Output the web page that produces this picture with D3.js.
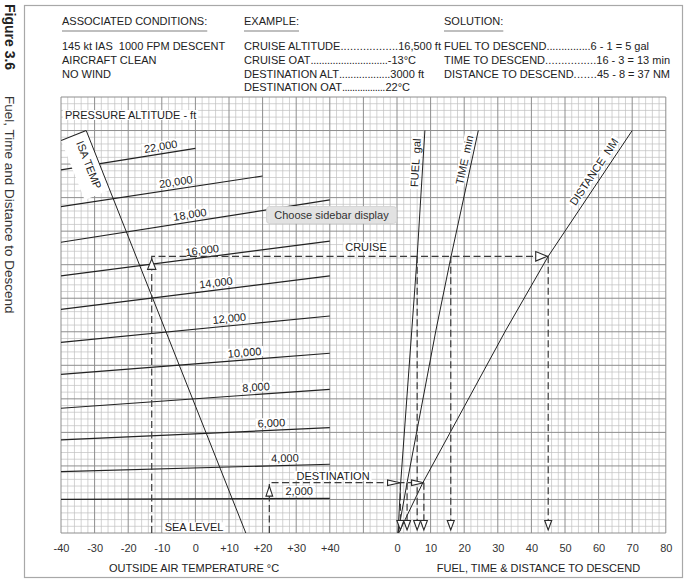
<!DOCTYPE html>
<html><head><meta charset="utf-8">
<script src="https://cdn.jsdelivr.net/npm/d3@7"></script>
<style>
html,body{margin:0;padding:0;background:#fff;}
svg{display:block;font-family:"Liberation Sans",Arial,Helvetica,sans-serif;}
text{white-space:pre;}
</style></head><body>
<svg id="chart" width="692" height="586"></svg>
<script>
// ---------------- data ----------------
const oatTicks = [-40,-30,-20,-10,0,10,20,30,40];
const descentTicks = [0,10,20,30,40,50,60,70,80];
const paLevels   = [22000,20000,18000,16000,14000,12000,10000,8000,6000,4000,2000];
const paStartOAT = [-40,-40,-40,-40,-40,-40,-40,-40,-40,-40,-40];
const paEndOAT   = [0,20,40,40,40,40,40,40,40,40,40];
const paStartH   = [21650,19460,17340,15330,13340,11370,9460,7440,5550,3660,2010];
const paEndH     = [22940,21290,19860,17410,15330,12940,10720,8570,6280,4100,2070];
const paLabelOAT = [-10,-5.5,-1.3,2.3,6.4,10.3,14.8,18.2,22.7,26.7,30.9];
const isaOAT = [-32.5, 15];
const isaH   = [24000, 0];
const scaleH   = [0, 3000, 12100, 16500, 24000];
const fuelGal  = [0.3, 1.1, 4.4, 6.0, 8.3];
const timeMin  = [0.3, 3.0, 11.6, 16.1, 24.2];
const distNM   = [0.5, 7.7, 32.4, 45.0, 70.0];
const ftdNames = ["FUEL  gal", "TIME  min", "DISTANCE  NM"];
const ftdLabelH = [22050, 22150, 21250];
const cruiseOAT = -13, cruiseH = 16500, destOAT = 22, destH = 3000;
const cruiseResults = [6, 16, 45];
const destResults = [1, 3, 8];
const headings = ["ASSOCIATED CONDITIONS:", "EXAMPLE:", "SOLUTION:"];
const conditionLines = ["145 kt IAS  1000 FPM DESCENT", "AIRCRAFT CLEAN", "NO WIND"];
const exampleLabels = ["CRUISE ALTITUDE", "CRUISE OAT", "DESTINATION ALT", "DESTINATION OAT"];
const exampleValues = ["16,500 ft", "-13°C", "3000 ft", "22°C"];
const exampleDots   = [18, 28, 18, 17];
const solutionLabels = ["FUEL TO DESCEND", "TIME TO DESCEND", "DISTANCE TO DESCEND"];
const solutionValues = ["6 - 1 = 5 gal", "16 - 3 = 13 min", "45 - 8 = 37 NM"];
const solutionDots   = [15, 16, 7];

// ---------------- layout ----------------
const svg = d3.select("#chart");
const ink = "#222";
const gridLeft = 61, gridRight = 665.8, gridTop = 97, gridBottom = 533;
const x  = d3.scaleLinear().domain([-40, 140]).range([gridLeft, gridRight]);
const xL = d3.scaleLinear().domain([-40, 40]).range([x(-40), x(40)]);
const xR = d3.scaleLinear().domain([0, 80]).range([x(60), x(140)]);
const y  = d3.scaleLinear().domain([0, 26000]).range([gridBottom, gridTop]);

svg.append("rect").attr("width",692).attr("height",586).attr("fill","#fff");
// frame
svg.append("rect").attr("x",24.5).attr("y",5.5).attr("width",658).attr("height",572)
  .attr("fill","none").attr("stroke","#a8a8a8").attr("stroke-width",1.2);

// side titles
svg.append("text").attr("transform","translate(5,4) rotate(90)")
  .attr("font-size",14).attr("font-weight","bold").attr("fill",ink).text("Figure 3.6");
svg.append("text").attr("transform","translate(5,96) rotate(90)")
  .attr("font-size",13.5).attr("fill","#333").text("Fuel, Time and Distance to Descend");

// header
const headX = [62, 244, 444];
const rowY = [50, 64, 78, 91];
const exampleEnd = [441, 416, 424, 410];
const solutionEnd = [649, 670, 670];
headings.forEach((h,i) => {
  const t = svg.append("text").attr("x",headX[i]).attr("y",25).attr("font-size",11).attr("fill",ink).text(h);
  const w = t.node().getComputedTextLength();
  svg.append("line").attr("x1",headX[i]).attr("x2",headX[i]+w).attr("y1",31).attr("y2",31)
    .attr("stroke","#aaa").attr("stroke-width",1.5);
});
conditionLines.forEach((s,j) => svg.append("text").attr("x",headX[0]).attr("y",rowY[j])
  .attr("font-size",11).attr("fill",ink).text(s));
function leaderLine(x0, yy, label, dots, value, xEnd) {
  const t1 = svg.append("text").attr("x",x0).attr("y",yy).attr("font-size",11).attr("fill",ink).text(label);
  const w1 = t1.node().getComputedTextLength();
  const t3 = svg.append("text").attr("x",xEnd).attr("y",yy).attr("font-size",11).attr("fill",ink)
    .attr("text-anchor","end").text(value);
  const w3 = t3.node().getComputedTextLength();
  const gap = xEnd - w3 - (x0 + w1);
  svg.append("text").attr("x",x0 + w1).attr("y",yy).attr("font-size",11).attr("fill",ink)
    .attr("textLength", Math.max(gap,1)).attr("lengthAdjust","spacing").text(".".repeat(dots));
}
exampleLabels.forEach((l,j) => leaderLine(headX[1], rowY[j], l, exampleDots[j], exampleValues[j], exampleEnd[j]));
solutionLabels.forEach((l,j) => leaderLine(headX[2], rowY[j], l, solutionDots[j], solutionValues[j], solutionEnd[j]));

// clip
svg.append("defs").append("clipPath").attr("id","gclip").append("rect")
  .attr("x",gridLeft).attr("y",gridTop).attr("width",gridRight-gridLeft).attr("height",gridBottom-gridTop);

// grid
const grid = svg.append("g");
const vMinor = d3.range(-40, 140.001, 2).filter(v => Math.abs(v % 10) > 1e-6);
const vMajor = d3.range(-40, 140.001, 10);
const hMinor = d3.range(0, 26000.1, 400).filter(v => v % 2000 !== 0);
const hMajor = d3.range(0, 26000.1, 2000);
grid.selectAll(".vmin").data(vMinor).join("line")
  .attr("x1",d=>x(d)).attr("x2",d=>x(d)).attr("y1",gridTop).attr("y2",gridBottom)
  .attr("stroke","#c0c0c0").attr("stroke-width",0.7);
grid.selectAll(".hmin").data(hMinor).join("line")
  .attr("y1",d=>y(d)).attr("y2",d=>y(d)).attr("x1",gridLeft).attr("x2",gridRight)
  .attr("stroke","#c0c0c0").attr("stroke-width",0.7);
grid.selectAll(".vmaj").data(vMajor).join("line")
  .attr("x1",d=>x(d)).attr("x2",d=>x(d)).attr("y1",gridTop).attr("y2",gridBottom)
  .attr("stroke","#8e8e8e").attr("stroke-width",1);
grid.selectAll(".hmaj").data(hMajor).join("line")
  .attr("y1",d=>y(d)).attr("y2",d=>y(d)).attr("x1",gridLeft).attr("x2",gridRight)
  .attr("stroke","#8e8e8e").attr("stroke-width",1);

// helper: white-backed label
function boxedText(g, txt, size, anchor) {
  const t = g.append("text").attr("font-size",size).attr("fill",ink).attr("text-anchor",anchor||"middle").text(txt);
  const bb = t.node().getBBox();
  g.insert("rect","text").attr("x",bb.x-2).attr("y",bb.y+1).attr("width",bb.width+4).attr("height",bb.height-2).attr("fill","#fff");
  return t;
}

// pressure altitude label box
{
  const g = svg.append("g").attr("transform","translate(65,119)");
  boxedText(g, "PRESSURE ALTITUDE - ft", 11, "start");
}

// pressure altitude lines
const paLayer = svg.append("g");
paLevels.forEach((lvl,i) => {
  const p0 = [xL(paStartOAT[i]), y(paStartH[i])];
  const p1 = [xL(paEndOAT[i]), y(paEndH[i])];
  paLayer.append("path").attr("d", d3.line()([p0,p1]))
    .attr("stroke",ink).attr("stroke-width",1.2).attr("fill","none");
  const hAt = d3.scaleLinear().domain([paStartOAT[i], paEndOAT[i]]).range([paStartH[i], paEndH[i]]);
  const lx = xL(paLabelOAT[i]), ly = y(hAt(paLabelOAT[i]));
  const ang = Math.atan2(p1[1]-p0[1], p1[0]-p0[0]) * 180/Math.PI;
  const g = svg.append("g").attr("transform",`translate(${lx},${ly}) rotate(${ang}) translate(0,-3.5)`);
  boxedText(g, d3.format(",")(lvl), 11);
});

// ISA temp line + label box
{
  const a = [xL(isaOAT[0]), y(isaH[0])], b = [xL(isaOAT[1]), y(isaH[1])];
  const ang = Math.atan2(b[1]-a[1], b[0]-a[0]) * 180/Math.PI;
  const g = svg.append("g").attr("clip-path","url(#gclip)")
    .append("g").attr("transform",`translate(${a[0]},${a[1]}) rotate(${ang})`);
  g.append("rect").attr("x",0).attr("y",0).attr("width",64).attr("height",27).attr("fill","#fff");
  g.append("line").attr("x1",0).attr("y1",0).attr("x2",0).attr("y2",27).attr("stroke",ink).attr("stroke-width",1);
  g.append("text").attr("x",33).attr("y",14).attr("text-anchor","middle").attr("font-size",11).attr("fill",ink).text("ISA TEMP");
  svg.append("path").attr("d", d3.line()([a,b])).attr("stroke",ink).attr("stroke-width",1).attr("fill","none");
}

// SEA LEVEL label
{
  const g = svg.append("g").attr("transform","translate(194,531.3)");
  boxedText(g, "SEA LEVEL", 11);
}

// fuel / time / distance lines
const ftdSeries = [fuelGal, timeMin, distNM];
const ftdOffset = [3.5, 3.5, 5];
ftdSeries.forEach((vals,k) => {
  const pts = vals.map((v,i) => [xR(v), y(scaleH[i])]);
  svg.append("path").attr("d", d3.line()(pts)).attr("stroke",ink).attr("stroke-width",1).attr("fill","none");
  const at = d3.scaleLinear().domain(scaleH).range(vals);
  const h = ftdLabelH[k];
  const px = xR(at(h)), py = y(h);
  const n = vals.length;
  const ang = Math.atan2(y(scaleH[n-1]) - y(scaleH[n-2]), xR(vals[n-1]) - xR(vals[n-2])) * 180/Math.PI;
  const g = svg.append("g").attr("transform",`translate(${px},${py}) rotate(${ang}) translate(0,${-ftdOffset[k]})`);
  boxedText(g, ftdNames[k], 11);
});

// example labels
{
  const g1 = svg.append("g").attr("transform","translate(366,250.7)");
  boxedText(g1, "CRUISE", 11);
  const g2 = svg.append("g").attr("transform","translate(333,479.7)");
  boxedText(g2, "DESTINATION", 11);
}

// dashed example paths
const dashG = svg.append("g").attr("fill","none").attr("stroke","#3a3a3a").attr("stroke-width",1.2).attr("stroke-dasharray","7,3.5");
const arrowTop = 520.5;
dashG.append("path").attr("d", `M${xL(cruiseOAT)},${gridBottom}V${y(cruiseH)}H${xR(cruiseResults[2])}`);
cruiseResults.forEach(v => dashG.append("path").attr("d", `M${xR(v)},${y(cruiseH)}V${arrowTop}`));
dashG.append("path").attr("d", `M${xL(destOAT)},${gridBottom}V${y(destH)}H${xR(destResults[2])}`);
destResults.forEach(v => dashG.append("path").attr("d", `M${xR(v)},${y(destH)}V${arrowTop}`));

// arrows
const arrowG = svg.append("g").attr("fill","#fff").attr("stroke","#2a2a2a").attr("stroke-width",1.1).attr("stroke-linejoin","miter");
function tri(tipX, tipY, dir, len, wid) {
  const h = wid/2;
  if (dir === "up")    return `M${tipX},${tipY}L${tipX-h},${tipY+len}L${tipX+h},${tipY+len}Z`;
  if (dir === "down")  return `M${tipX},${tipY}L${tipX-h},${tipY-len}L${tipX+h},${tipY-len}Z`;
  return `M${tipX},${tipY}L${tipX-len},${tipY-h}L${tipX-len},${tipY+h}Z`;
}
arrowG.append("path").attr("d", tri(xL(cruiseOAT), y(cruiseH)+2.6, "up", 10.5, 8.3));
arrowG.append("path").attr("d", tri(xR(cruiseResults[2])-1, y(cruiseH), "right", 11.5, 9.5));
arrowG.append("path").attr("d", tri(xL(destOAT), y(destH)+3.4, "up", 10, 6.7));
arrowG.append("path").attr("d", tri(xR(destResults[0])-0.3, y(destH), "right", 12.5, 5.5));
arrowG.append("path").attr("d", tri(xR(destResults[2])-0.3, y(destH), "right", 12, 5.5));
cruiseResults.concat(destResults).forEach(v =>
  arrowG.append("path").attr("d", tri(xR(v), 530, "down", 9.5, 7)));

// axes
const fmtOAT = d => d > 0 ? "+" + d : String(d);
const axL = svg.append("g").attr("transform",`translate(0,541)`)
  .call(d3.axisBottom(xL).tickValues(oatTicks).tickSize(0).tickFormat(fmtOAT));
const axR = svg.append("g").attr("transform",`translate(0,541)`)
  .call(d3.axisBottom(xR).tickValues(descentTicks).tickSize(0).tickFormat(d => String(d)));
[axL, axR].forEach(a => {
  a.select(".domain").remove();
  a.selectAll("text").attr("font-size",11).attr("fill","#333").attr("font-family",'"Liberation Sans",Arial,sans-serif');
});
svg.append("text").attr("x",194).attr("y",572).attr("text-anchor","middle").attr("font-size",11).attr("fill",ink)
  .text("OUTSIDE AIR TEMPERATURE °C");
svg.append("text").attr("x",538.5).attr("y",572).attr("text-anchor","middle").attr("font-size",11).attr("fill",ink)
  .text("FUEL, TIME & DISTANCE TO DESCEND");

// overlay tooltip
{
  const g = svg.append("g");
  g.append("rect").attr("x",266.5).attr("y",206.5).attr("width",130).attr("height",17).attr("rx",3)
    .attr("fill","#e2e2e2").attr("stroke","#d0d0d0").attr("stroke-width",0.8);
  g.append("text").attr("x",331.5).attr("y",218.5).attr("text-anchor","middle").attr("font-size",11)
    .attr("fill","#333").text("Choose sidebar display");
}
</script>
</body></html>
